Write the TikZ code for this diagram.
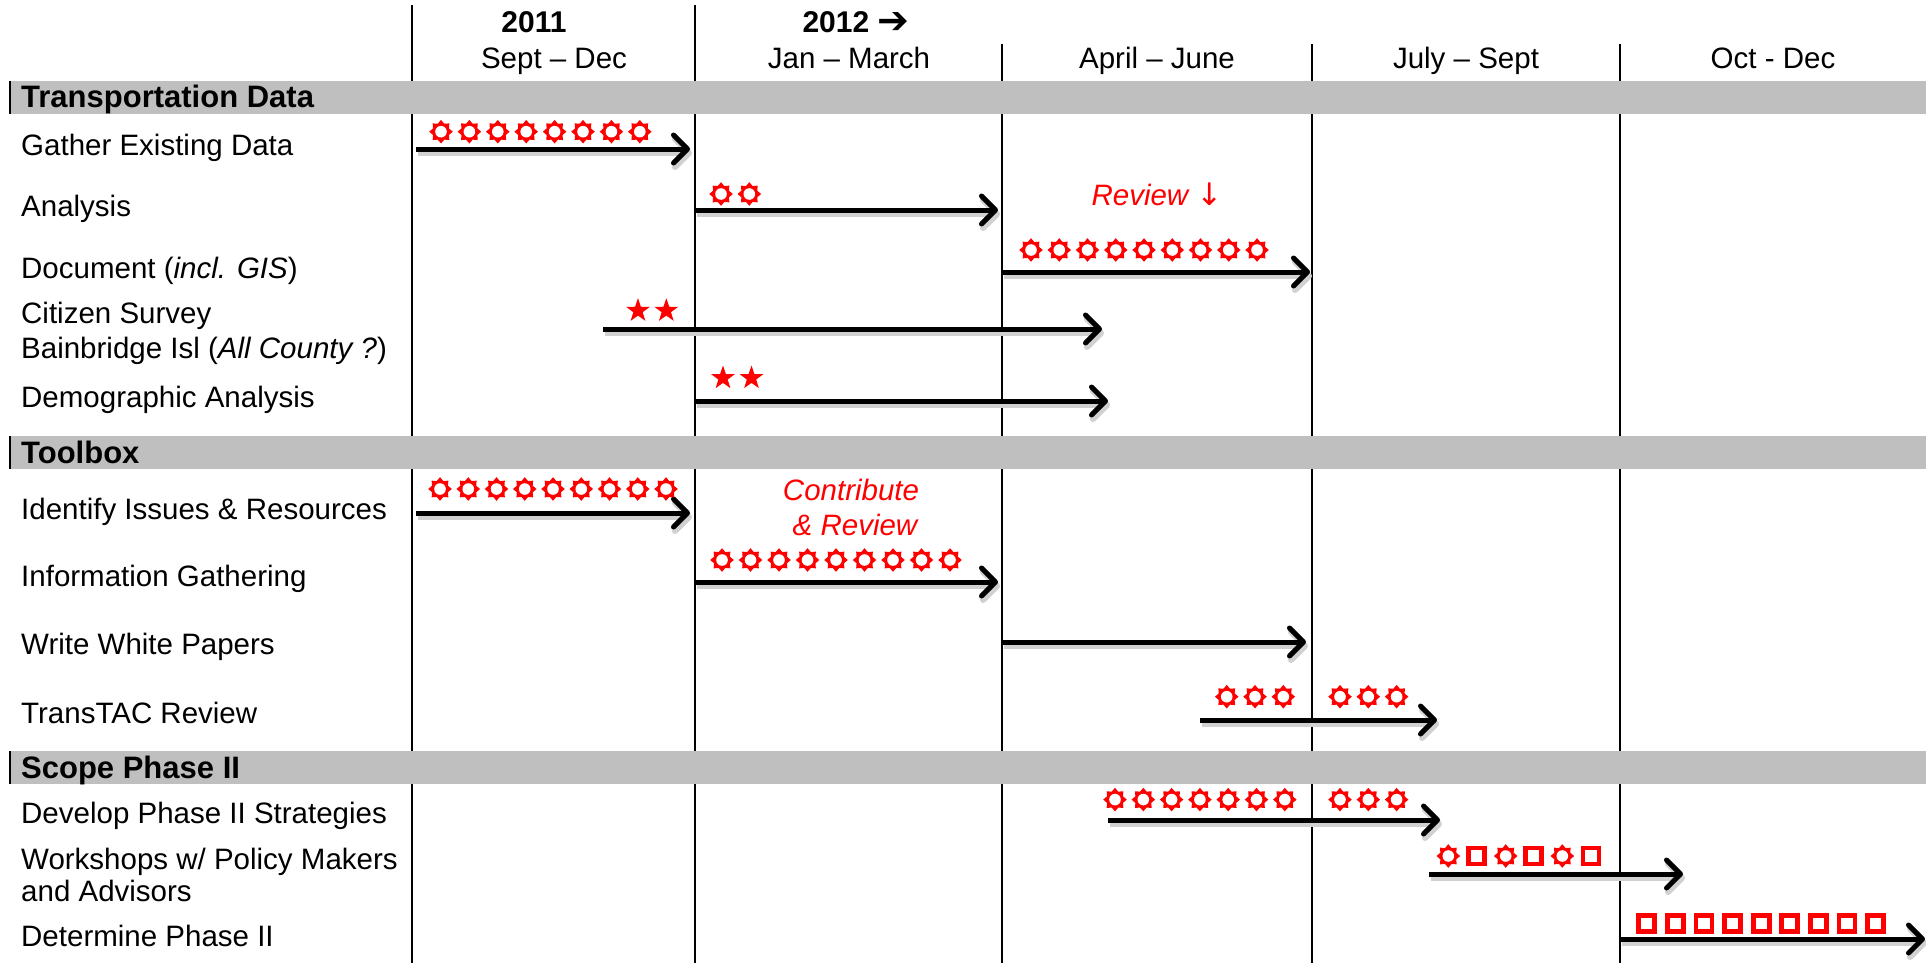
\documentclass[tikz,border=0pt]{standalone}
\usepackage{fontspec}
\setmainfont{Liberation Sans}
\newfontfamily\dejavu{DejaVu Sans}
\usetikzlibrary{arrows.meta}
\definecolor{bargray}{RGB}{191,191,191}
\newcommand\tsk[4]{%
  \coordinate (#1s) at (#2,#4);
  \coordinate (#1e) at (#3,#4);
  \draw[shadowline] ([shift={(2,4)}]#1s) -- ([shift={(2,4)}]#1e);
  \draw[task] (#1s) -- (#1e);}
\begin{document}
\begin{tikzpicture}[x=1pt,y=-1pt,
  lbl/.style={anchor=base west, inner sep=0, font=\fontsize{29.5}{33}\selectfont},
  sec/.style={anchor=base west, inner sep=0, font=\fontsize{31}{35}\selectfont\bfseries},
  hdr/.style={anchor=base, inner sep=0, font=\fontsize{29.5}{33}\selectfont},
  yr/.style={anchor=base, inner sep=0, font=\fontsize{30}{34}\selectfont\bfseries},
  note/.style={anchor=base, inner sep=0, text=red, font=\fontsize{29.5}{33}\selectfont\itshape},
  gridline/.style={line width=2pt},
  task/.style={line width=5pt, -{Straight Barb[length=14pt,width=28pt,round]}},
  shadowline/.style={line width=6pt, black!18, -{Straight Barb[length=14pt,width=28pt,round]}},
  sun/.pic={\fill[red] (90:11.8) \foreach \i [evaluate=\i as \r using {isodd(\i) ? 8.6 : 11.8}] in {1,...,15} { -- ({90+\i*22.5}:\r) } -- cycle;
            \fill[white] (0,0) circle (5.8pt);},
  sq/.pic={\draw[red, line width=4.8pt] (-8,-8) rectangle (8,8);},
  fstar/.pic={\fill[red] (-90:12.5) \foreach \i [evaluate=\i as \r using {isodd(\i) ? 4.9 : 12.5}] in {1,...,9} { -- ({-90+\i*36}:\r) } -- cycle;}
]
\useasboundingbox (0,0) rectangle (1926,963);
\fill[white] (0,0) rectangle (1926,963);

% vertical grid lines
\draw[gridline] (412,5) -- (412,963);
\draw[gridline] (695,5) -- (695,963);
\draw[gridline] (1002,44) -- (1002,963);
\draw[gridline] (1312,44) -- (1312,963);
\draw[gridline] (1620,44) -- (1620,963);

% section bars
\foreach \ya/\yb in {81/114, 436/469, 751/784} {
  \fill[bargray] (10,\ya) rectangle (1926,\yb);
  \draw[line width=2.5pt] (10,\ya) -- (10,\yb);
}

% header
\node[yr] (y2011) at (534,33) {2011};
\node[yr] (y2012) at (856,33) {2012 {\dejavu\bfseries\fontsize{38}{38}\selectfont\raisebox{-1pt}{➔}}};
\node[hdr] (c1) at (554,69) {Sept – Dec};
\node[hdr] (c2) at (849,69) {Jan – March};
\node[hdr] (c3) at (1157,69) {April – June};
\node[hdr] (c4) at (1466,69) {July – Sept};
\node[hdr] (c5) at (1773,69) {Oct - Dec};

% section titles
\node[sec] (s1) at (21,108) {Transportation Data};
\node[sec] (s2) at (21,463) {Toolbox};
\node[sec] (s3) at (21,778) {Scope Phase II};

% row labels
\node[lbl] (l1) at (21,155) {Gather Existing Data};
\node[lbl] (l2) at (21,216) {Analysis};
\node[lbl] (l3) at (21,278) {Document (\textit{incl. GIS})};
\node[lbl] (l4a) at (21,323) {Citizen Survey};
\node[lbl] (l4b) at (21,358) {Bainbridge Isl (\textit{All County ?})};
\node[lbl] (l5) at (21,407) {Demographic Analysis};
\node[lbl] (l6) at (21,519) {Identify Issues \& Resources};
\node[lbl] (l7) at (21,586) {Information Gathering};
\node[lbl] (l8) at (21,654) {Write White Papers};
\node[lbl] (l9) at (21,723) {TransTAC Review};
\node[lbl] (l10) at (21,823) {Develop Phase II Strategies};
\node[lbl] (l11a) at (21,869) {Workshops w/ Policy Makers};
\node[lbl] (l11b) at (21,901) {and Advisors};
\node[lbl] (l12) at (21,946) {Determine Phase II};

% red notes
\node[note] (rev) at (1157,205) {Review {\dejavu\itshape\fontsize{31}{33}\selectfont ↓}};
\node[note] (con1) at (851,500) {Contribute};
\node[note] (con2) at (855,535) {\& Review};

% task arrows
\tsk{ga}{416}{690}{149}
\tsk{an}{695}{998}{210}
\tsk{doc}{1002}{1310}{272}
\tsk{cit}{603}{1102}{329}
\tsk{dem}{695}{1108}{401}
\tsk{idf}{416}{690}{513}
\tsk{inf}{695}{998}{582}
\tsk{wwp}{1002}{1306}{642}
\tsk{ttc}{1200}{1437}{720}
\tsk{dev}{1108}{1440}{820}
\tsk{wks}{1429}{1683}{874}
\tsk{det}{1620}{1925}{939}

% symbols
\foreach \k in {0,...,7} \pic at ({441+28.4*\k},131.7) {sun};
\foreach \k in {0,1} \pic at ({721+28.3*\k},194) {sun};
\foreach \k in {0,...,8} \pic at ({1031+28.25*\k},250) {sun};
\foreach \k in {0,1} \pic at ({638+28.3*\k},310.7) {fstar};
\foreach \k in {0,1} \pic at ({723+28.5*\k},378) {fstar};
\foreach \k in {0,...,8} \pic at ({440+28.25*\k},489) {sun};
\foreach \k in {0,...,8} \pic at ({722+28.5*\k},560) {sun};
\foreach \k in {0,1,2} \pic at ({1226.7+28.3*\k},696.7) {sun};
\foreach \k in {0,1,2} \pic at ({1340+28.3*\k},696.7) {sun};
\foreach \k in {0,...,6} \pic at ({1115+28.3*\k},799.6) {sun};
\foreach \k in {0,1,2} \pic at ({1340+28.3*\k},799.6) {sun};
\pic at (1448.3,856) {sun};
\pic at (1476.7,856) {sq};
\pic at (1505.7,856) {sun};
\pic at (1533.3,856) {sq};
\pic at (1562.3,856) {sun};
\pic at (1591,856) {sq};
\foreach \k in {0,...,8} \pic at ({1646.7+28.6*\k},923.3) {sq};
\end{tikzpicture}
\end{document}
